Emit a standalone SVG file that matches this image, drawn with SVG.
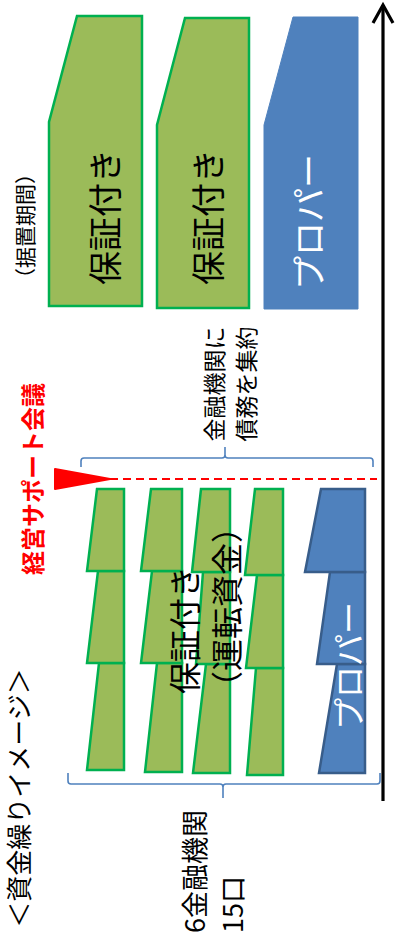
<svg xmlns="http://www.w3.org/2000/svg" width="395" height="939" viewBox="0 0 395 939">
<defs>
<style>
.g{fill:#9BBB59;stroke:#00B050;stroke-width:2.5;stroke-linejoin:miter}
.bt{fill:#4F81BD;stroke:#4F81BD;stroke-width:1}
.bl{fill:#4F81BD;stroke:#385D8A;stroke-width:2.5}
.t{font-family:"Noto Sans CJK JP","Liberation Sans",sans-serif;fill:#000;dominant-baseline:central}
.w{fill:#FFFFFF}
.r{fill:#FF0000;font-weight:bold}
.br{fill:none;stroke:#4F81BD;stroke-width:1.6}
</style>
</defs>
<rect width="395" height="939" fill="#FFFFFF"/>

<g id="connectors">
  <line x1="383" y1="801" x2="383" y2="5" stroke="#000" stroke-width="3.2"/>
  <polyline points="373,23 383,5 393,23" fill="none" stroke="#000" stroke-width="3.2"/>
  <line x1="110" y1="479" x2="377" y2="479" stroke="#FF0000" stroke-width="2" stroke-dasharray="8 5"/>
  <path class="br" d="M81,467 V461 Q81,458 84,458 H222 Q225,458 225,455 V447 V455 Q225,458 228,458 H370 Q373,458 373,461 V467"/>
  <path class="br" d="M68,773 V781 Q68,784 71,784 H220 Q223,784 223,787 V798 V787 Q223,784 226,784 H377 Q380,784 380,781 V773"/>
</g>

<g id="top-guarantee-1">
  <polygon class="g" points="77,16 142,16 142,306 49,306 49,122"/>
  <text class="t" font-size="34" text-anchor="middle" transform="translate(103,217) rotate(-90)">保証付き</text>
</g>
<g id="top-guarantee-2">
  <polygon class="g" points="185,18 249,18 249,308 157,308 157,125"/>
  <text class="t" font-size="34" text-anchor="middle" transform="translate(206,217) rotate(-90)">保証付き</text>
</g>
<g id="top-proper">
  <polygon class="bt" points="293,17 358,17 358,309 264,309 264,125"/>
  <text class="t w" font-size="34" text-anchor="middle" transform="translate(307,222) rotate(-90)">プロパー</text>
</g>
<g id="label-grace">
  <text class="t" font-size="21" text-anchor="middle" transform="translate(24,226) rotate(-90)">（据置期間）</text>
</g>
<g id="label-consolidate">
  <text class="t" font-size="23" text-anchor="middle" transform="translate(213,384) rotate(-90)">金融機関に</text>
  <text class="t" font-size="23" text-anchor="middle" transform="translate(245,384) rotate(-90)">債務を集約</text>
</g>
<g id="label-meeting">
  <polygon points="55,469 110,479 55,489" fill="#FF0000" stroke="#FF0000" stroke-width="2" stroke-linejoin="round"/>
  <text class="t r" font-size="24" text-anchor="middle" transform="translate(31,479) rotate(-90)">経営サポート会議</text>
</g>

<g id="bar-1">
  <polygon class="g" points="99,663 124,663 124,770 87,770"/>
  <polygon class="g" points="98,571 124,571 124,663 87,663"/>
  <polygon class="g" points="97,489 124,489 124,571 87,571"/>
</g>
<g id="bar-2">
  <polygon class="g" points="157,663 182,663 182,772 145,772"/>
  <polygon class="g" points="152,571 182,571 182,663 141,663"/>
  <polygon class="g" points="151,489 182,489 182,571 141,571"/>
</g>
<g id="bar-3">
  <polygon class="g" points="206,664 230,664 230,773 193,773"/>
  <polygon class="g" points="203,572 230,572 230,664 196,664"/>
  <polygon class="g" points="201,489 230,489 230,572 192,572"/>
</g>
<g id="bar-4">
  <polygon class="g" points="256,668 283,668 283,775 247,775"/>
  <polygon class="g" points="257,575 283,575 283,668 246,668"/>
  <polygon class="g" points="255,489 283,489 283,575 245,575"/>
</g>
<g id="bar-proper">
  <polygon class="bl" points="337,664 365,664 365,773 319,773"/>
  <polygon class="bl" points="330,572 365,572 365,664 317,664"/>
  <polygon class="bl" points="321,489 365,489 365,572 305,572"/>
  <text class="t w" font-size="32" text-anchor="middle" transform="translate(347,666) rotate(-90)">プロパー</text>
</g>
<g id="label-working-capital">
  <text class="t" font-size="32" text-anchor="start" transform="translate(183,694) rotate(-90)">保証付き</text>
  <text class="t" font-size="32" text-anchor="start" transform="translate(225,703) rotate(-90)">（運転資金）</text>
</g>
<g id="label-institutions">
  <text class="t" font-size="27" text-anchor="start" transform="translate(193,933) rotate(-90)">6金融機関</text>
  <text class="t" font-size="27" text-anchor="start" transform="translate(231,933) rotate(-90)">15口</text>
</g>
<g id="title">
  <text class="t" font-size="26" text-anchor="middle" transform="translate(17,798) rotate(-90)">＜資金繰りイメージ＞</text>
</g>
</svg>
